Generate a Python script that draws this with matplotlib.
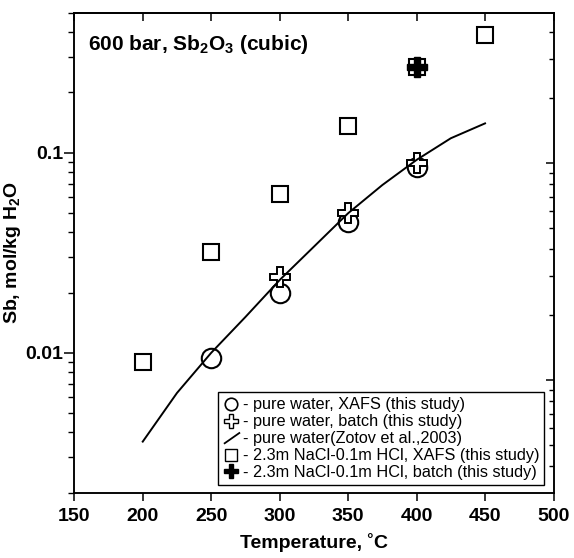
import matplotlib
matplotlib.use('Agg')

import matplotlib.pyplot as plt
from matplotlib.lines import Line2D
from matplotlib.legend_handler import HandlerBase


# data (temperature in C, Sb in mol/kg H2O)
temp_xafs_water = [250, 300, 350, 400]
sb_xafs_water = [0.0094, 0.0198, 0.045, 0.085]

temp_batch_water = [300, 350, 400]
sb_batch_water = [0.024, 0.050, 0.089]

temp_zotov = [200, 225, 250, 275, 300, 325, 350, 375, 400, 425, 450]
sb_zotov = [0.0036, 0.0063, 0.0100, 0.0151, 0.0231, 0.0339, 0.0498,
            0.0689, 0.092, 0.118, 0.140]

temp_xafs_nacl = [200, 250, 300, 350, 400, 450]
sb_xafs_nacl = [0.009, 0.032, 0.062, 0.136, 0.267, 0.388]

temp_batch_nacl = [400]
sb_batch_nacl = [0.267]

x_ticks = [150, 200, 250, 300, 350, 400, 450, 500]

plt.rcParams['font.family'] = ['Liberation Sans', 'DejaVu Sans']


class DiagHandler(HandlerBase):
    # short slanted line like the original legend
    def create_artists(self, legend, orig_handle, xdescent, ydescent,
                       width, height, fontsize, trans):
        x0 = -xdescent + width * 0.1
        line = Line2D([x0, -xdescent + width], [-ydescent, -ydescent + height * 0.9],
                      color='black', lw=1.3, transform=trans)
        return [line]


fig = plt.figure(figsize=(5.74, 5.58), dpi=100)
ax = fig.add_axes([0.1294, 0.117, 0.8349, 0.8602])

ax.plot(temp_xafs_water, sb_xafs_water, linestyle='none', marker='o',
        ms=14, mfc='none', mec='black', mew=1.5, zorder=3)
ax.plot(temp_batch_water, sb_batch_water, linestyle='none', marker='P',
        ms=15, mfc='white', mec='black', mew=1.4, zorder=4)
ax.plot(temp_xafs_nacl, sb_xafs_nacl, linestyle='none', marker='s',
        ms=12, mfc='white', mec='black', mew=1.5, zorder=3)
ax.plot(temp_batch_nacl, sb_batch_nacl, linestyle='none', marker='P',
        ms=14, mfc='black', mec='black', mew=1.0, zorder=4)
ax.plot(temp_zotov, sb_zotov, color='black', lw=1.4, zorder=5)

ax.set_yscale('log')
ax.set_xlim(150, 500)
ax.set_ylim(0.002, 0.5)
ax.set_xticks(x_ticks)
ax.set_yticks([0.01, 0.1])
ax.set_yticklabels(['0.01', '0.1'])
ax.minorticks_on()
ax.xaxis.set_minor_locator(matplotlib.ticker.NullLocator())
ax.yaxis.set_minor_formatter(matplotlib.ticker.NullFormatter())

ax.tick_params(axis='x', which='major', direction='out', length=6, width=1.1,
               labelsize=14, pad=5)
ax.tick_params(axis='y', which='major', direction='out', length=7, width=1.1,
               labelsize=14, pad=1)
ax.tick_params(axis='y', which='minor', direction='out', length=4, width=1.0)
for lab in ax.get_xticklabels() + ax.get_yticklabels():
    lab.set_fontweight('bold')

for sp in ax.spines.values():
    sp.set_linewidth(1.1)

# top axis: same scale, ticks pointing in
top = ax.secondary_xaxis('top')
top.set_xticks(x_ticks)
top.tick_params(direction='in', length=6, width=1.1, labeltop=False)
top.spines['top'].set_linewidth(1.1)

# right axis: log scale with its own range, no labels
ax2 = ax.twinx()
ax2.set_yscale('log')
ax2.set_ylim(0.00302, 0.4928)
ax2.tick_params(axis='y', which='major', direction='in', length=6, width=1.1,
                labelright=False)
ax2.tick_params(axis='y', which='minor', direction='in', length=3.5, width=1.0,
                labelright=False)
ax2.yaxis.set_minor_formatter(matplotlib.ticker.NullFormatter())
for sp in ax2.spines.values():
    sp.set_linewidth(1.1)

ax.set_xlabel('Temperature, ˚C', fontsize=14, fontweight='bold', labelpad=6)
ax.set_ylabel(r'Sb, mol/kg H$\mathregular{_2}$O', fontsize=14, fontweight='bold',
              labelpad=2)

ax.text(0.028, 0.957, r'600 bar, Sb$\mathregular{_2}$O$\mathregular{_3}$ (cubic)',
        transform=ax.transAxes, fontsize=15, fontweight='bold', va='top', ha='left')

h_circle = Line2D([], [], linestyle='none', marker='o', ms=9, mfc='none',
                  mec='black', mew=1.2)
h_cross = Line2D([], [], linestyle='none', marker='P', ms=10, mfc='white',
                 mec='black', mew=1.0)
h_line = Line2D([], [], color='black')
h_square = Line2D([], [], linestyle='none', marker='s', ms=8, mfc='white',
                  mec='black', mew=1.0)
h_fcross = Line2D([], [], linestyle='none', marker='P', ms=10, mfc='black',
                  mec='black', mew=1.0)

labels = [
    '- pure water, XAFS (this study)',
    '- pure water, batch (this study)',
    '- pure water(Zotov et al.,2003)',
    '- 2.3m NaCl-0.1m HCl, XAFS (this study)',
    '- 2.3m NaCl-0.1m HCl, batch (this study)',
]

leg = ax.legend([h_circle, h_cross, h_line, h_square, h_fcross], labels,
                handler_map={h_line: DiagHandler()},
                loc='lower right', bbox_to_anchor=(0.98, 0.016),
                fontsize=11.7, frameon=True, fancybox=False, framealpha=1,
                edgecolor='black', handlelength=1.0, handletextpad=0.2,
                borderpad=0.3, labelspacing=0.12, borderaxespad=0)
leg.get_frame().set_linewidth(1.0)
leg.set_zorder(10)

fig.savefig('out.png', dpi=100)
plt.close(fig)
